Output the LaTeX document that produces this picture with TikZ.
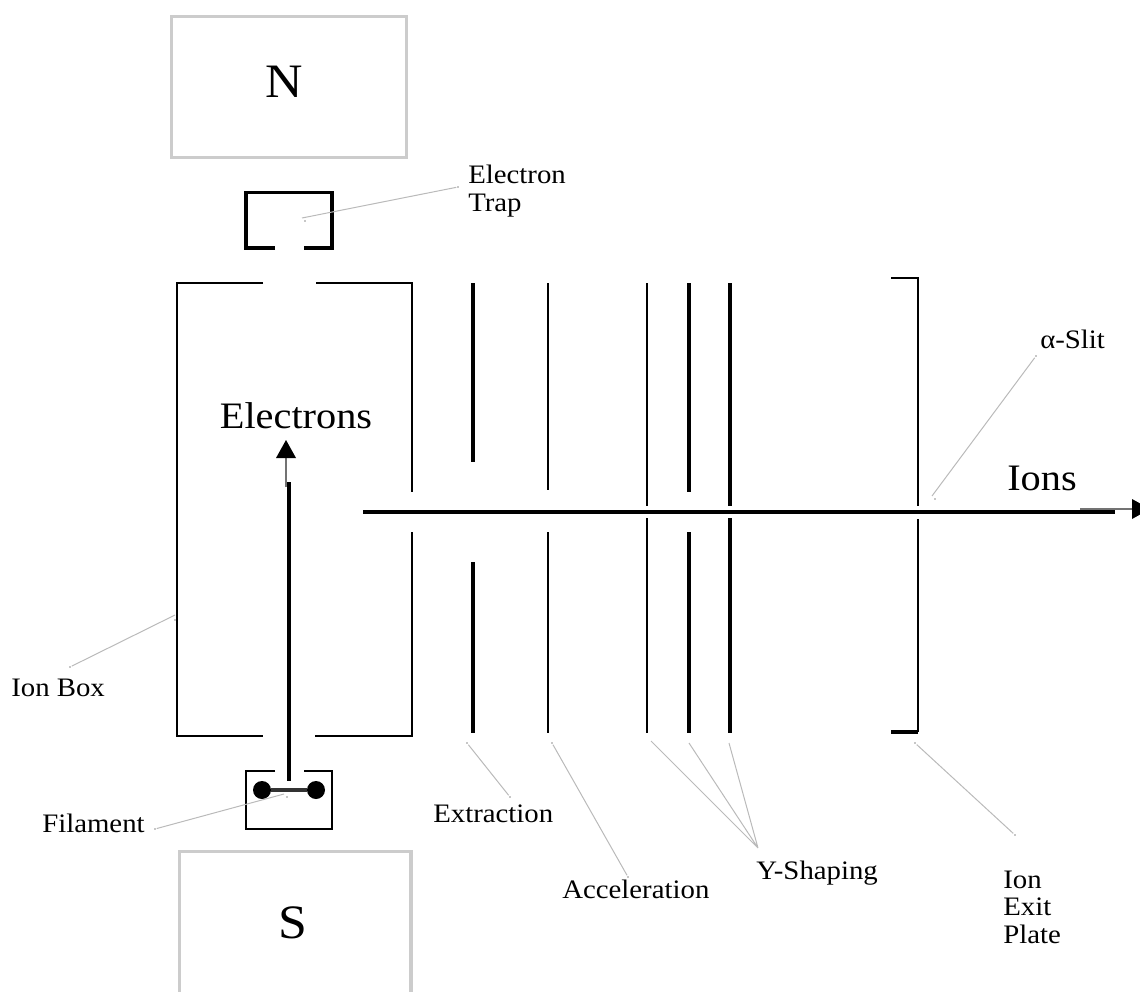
\documentclass[tikz,border=0pt]{standalone}
\usepackage{fontspec}
\setmainfont[FakeStretch=1.08]{Liberation Serif}
\tikzset{
  x=0.75pt,y=-0.75pt,
  wire/.style={draw=black,line width=1.6pt,line cap=butt},
  thick wire/.style={draw=black,line width=2.35pt,line cap=butt},
  magnet/.style={draw=black!20,line width=2.3pt},
  leader/.style={draw=black!27,line width=0.75pt},
  tick mark/.style={fill=black!22,draw=none,minimum size=2.2pt,inner sep=0pt,shape=rectangle},
  bigtext/.style={font=\fontsize{28}{32}\selectfont,inner sep=0pt},
  poletext/.style={font=\fontsize{36}{40}\selectfont,inner sep=0pt},
  label text/.style={font=\fontsize{20}{20}\selectfont,inner sep=0pt},
  stack text/.style={font=\fontsize{20}{20.2}\selectfont,inner sep=0pt,align=left},
}
\begin{document}
\begin{tikzpicture}
\useasboundingbox (0,0) rectangle (1140,992);
% magnets
\node[magnet,minimum width=176.25pt,minimum height=105.75pt,inner sep=0pt,outer sep=0pt,anchor=north west] (north) at (171.5,16.5) {};
\node[poletext] at (284,81.5) (northtext) {N};
\draw[magnet] (179.5,992) -- (179.5,851.5) -- (411,851.5) -- (411,992);
\node[poletext] (southtext) at (293,923) {S};
% electron trap
\draw[thick wire] (275,248) -- (246,248) -- (246,192.5) -- (332,192.5) -- (332,248) -- (304,248);
% ion box
\draw[wire] (263,283) -- (177,283) -- (177,736) -- (263,736);
\draw[wire] (316,283) -- (412,283) -- (412,492);
\draw[wire] (412,532) -- (412,736) -- (315,736);
% filament box
\draw[wire] (275,771) -- (246,771) -- (246,829) -- (332,829) -- (332,771) -- (304,771);
\node[circle,fill=black,minimum size=13.5pt,inner sep=0pt] (fa) at (262,790) {};
\node[circle,fill=black,minimum size=13.5pt,inner sep=0pt] (fb) at (316,790) {};
\draw[draw=black!80,line width=2.4pt] (fa) -- (fb);
% electron beam
\coordinate (ebeamtop) at (289,482);
\coordinate (ebeambot) at (289,781);
\draw[thick wire] (ebeamtop) -- (ebeambot);
\coordinate (earrowfoot) at (286,487);
\coordinate (earrowbase) at (286,458);
\draw[draw=black!55,line width=0.8pt] (earrowfoot) -- (earrowbase);
\fill[black] (276,458) -- (286,440) -- (296,458) -- cycle;
\node[bigtext] (electrons) at (296,416) {Electrons};
% plates
\draw[thick wire] (473,283) -- (473,462) (473,562) -- (473,733);
\draw[wire] (548,283) -- (548,490) (548,532) -- (548,733);
\draw[wire] (647,283) -- (647,506) (647,518) -- (647,733);
\draw[thick wire] (689,283) -- (689,492) (689,532) -- (689,733);
\draw[thick wire] (730,283) -- (730,506) (730,518) -- (730,733);
\draw[wire] (891,278) -- (918,278) -- (918,506);
\draw[wire] (918,519) -- (918,732);
\draw[thick wire] (891,732) -- (918,732);
% ion beam
\coordinate (ionstart) at (363,512);
\coordinate (ionend) at (1115,512);
\draw[thick wire] (ionstart) -- (ionend);
\coordinate (iarrowfoot) at (1080,509);
\coordinate (iarrowbase) at (1132,509);
\draw[draw=black!55,line width=0.8pt] (iarrowfoot) -- (iarrowbase);
\fill[black] (1132,499) -- (1150,509) -- (1132,519) -- cycle;
\node[bigtext] (ions) at (1042,478) {Ions};
% leaders
\node[tick mark] (ltrapa) at (305,221) {};
\node[tick mark] (ltrapb) at (458,187) {};
\draw[leader] (302,218) -- (ltrapb);
\node[label text,anchor=west] (trap) at (468,192.5) {\begin{tabular}{@{}l@{}}Electron\\[0.8pt]Trap\end{tabular}};
\node[tick mark] (lslita) at (935,499) {};
\node[tick mark] (lslitb) at (1036,356) {};
\draw[leader] (932,496) -- (lslitb);
\node[label text,anchor=west] (slit) at (1040,339) {α-Slit};
\node[tick mark] (lboxa) at (175,620) {};
\node[tick mark] (lboxb) at (70,667) {};
\draw[leader] (lboxb) -- (175,615);
\node[label text,anchor=west] (ionbox) at (11,688) {Ion Box};
\node[tick mark] (lfila) at (287,797) {};
\node[tick mark] (lfilb) at (155,829) {};
\draw[leader] (lfilb) -- (284,794);
\node[label text,anchor=west] (filament) at (42,823) {Filament};
\node[tick mark] (lexta) at (467,743) {};
\node[tick mark] (lextb) at (510,797) {};
\draw[leader] (lexta) -- (lextb);
\node[label text,anchor=west] (extraction) at (433,814) {Extraction};
\node[tick mark] (lacca) at (552,743) {};
\node[tick mark] (laccb) at (628,877) {};
\draw[leader] (lacca) -- (laccb);
\node[label text,anchor=west] (acceleration) at (562,889) {Acceleration};
\coordinate (yhub) at (758,848);
\coordinate (yone) at (651,741);
\coordinate (ytwo) at (689,743);
\coordinate (ythree) at (729,743);
\draw[leader] (yone) -- (yhub) (ytwo) -- (yhub) (ythree) -- (yhub);
\node[label text,anchor=west] (yshaping) at (756,873) {Y-Shaping};
\node[tick mark] (lexita) at (915,743) {};
\node[tick mark] (lexitb) at (1015,835) {};
\draw[leader] (lexita) -- (lexitb);
\node[stack text,anchor=north west] (exitplate) at (1003,869) {\begin{tabular}{@{}l@{}}Ion\\[0.7pt]Exit\\[0.7pt]Plate\end{tabular}};
\end{tikzpicture}
\end{document}
